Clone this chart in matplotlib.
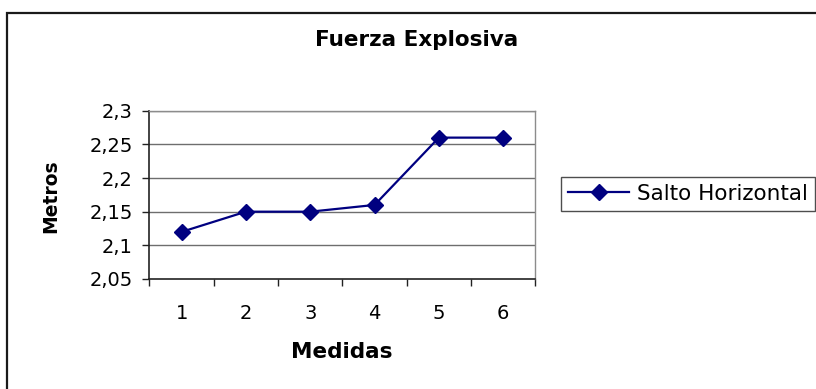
import matplotlib
matplotlib.use("Agg")
import matplotlib.pyplot as plt
from matplotlib.lines import Line2D
from matplotlib.patches import Rectangle

# Explosive strength measurements (horizontal jump, metres)
medidas = [1, 2, 3, 4, 5, 6]
salto_horizontal = [2.12, 2.15, 2.15, 2.16, 2.26, 2.26]
y_ticks = [2.05, 2.10, 2.15, 2.20, 2.25, 2.30]
y_tick_labels = ["2,05", "2,1", "2,15", "2,2", "2,25", "2,3"]
x_tick_labels = ["1", "2", "3", "4", "5", "6"]

title = "Fuerza Explosiva"
x_label = "Medidas"
y_label = "Metros"
series_name = "Salto Horizontal"

W, H = 816, 389
plt.rcParams["font.family"] = ["DejaVu Sans"]

fig = plt.figure(figsize=(W / 100, H / 100), dpi=100)
fig.patch.set_facecolor("white")

# Outer chart frame (extends past the right and bottom edges)
fig.patches.append(Rectangle((7 / W, -0.05), 1.2, 1 - 12.5 / H + 0.05,
                             transform=fig.transFigure, fill=False,
                             edgecolor="#1a1a1a", linewidth=1.6))

ax = fig.add_axes([149.4 / W, 1 - 279 / H, 386 / W, 168.3 / H])
navy = "#000080"
ax.plot(medidas, salto_horizontal, color=navy, linewidth=1.6,
        marker="D", markersize=8, markerfacecolor=navy,
        markeredgecolor=navy, zorder=3, clip_on=False)

ax.set_xlim(0.5, 6.5)
ax.set_ylim(2.05, 2.30)

# Horizontal gridlines
for v in y_ticks[1:]:
    ax.axhline(v, color="#6e6e6e", linewidth=1.0, zorder=1)

for side in ("top", "right"):
    ax.spines[side].set_color("#8c8c8c")
    ax.spines[side].set_linewidth(1.0)
for side in ("left", "bottom"):
    ax.spines[side].set_color("#222222")
    ax.spines[side].set_linewidth(1.2)

ax.set_yticks(y_ticks)
ax.set_yticklabels(y_tick_labels)
ax.tick_params(axis="y", direction="out", length=5, width=1.0,
               color="#222222", pad=7, labelsize=14)

# Category labels in the middle, tick marks between categories
ax.set_xticks(medidas)
ax.set_xticklabels(x_tick_labels)
ax.tick_params(axis="x", which="major", length=0, pad=18, labelsize=14)
ax.set_xticks([m + 0.5 for m in [0] + medidas], minor=True)
ax.tick_params(axis="x", which="minor", direction="out", length=5,
               width=1.0, color="#222222")

fig.text(417 / W, 1 - 40 / H, title, ha="center", va="center",
         fontsize=15.5, fontweight="bold")
fig.text(342 / W, 1 - 352 / H, x_label, ha="center", va="center",
         fontsize=15.5, fontweight="bold")
fig.text(51 / W, 1 - 196 / H, y_label, ha="center", va="center",
         rotation=90, fontsize=13.5, fontweight="bold")

handle = Line2D([], [], color=navy, linewidth=1.6, marker="D",
                markersize=8, markerfacecolor=navy, markeredgecolor=navy)
leg = fig.legend([handle], [series_name], loc="center left",
                 bbox_to_anchor=(561 / W, 1 - 194 / H),
                 frameon=True, fancybox=False, fontsize=15.5,
                 handlelength=2.85, handletextpad=0.37, borderpad=0.33,
                 borderaxespad=0)
leg.get_frame().set_edgecolor("#222222")
leg.get_frame().set_linewidth(1.0)

fig.savefig("out.png", dpi=100, facecolor="white")
